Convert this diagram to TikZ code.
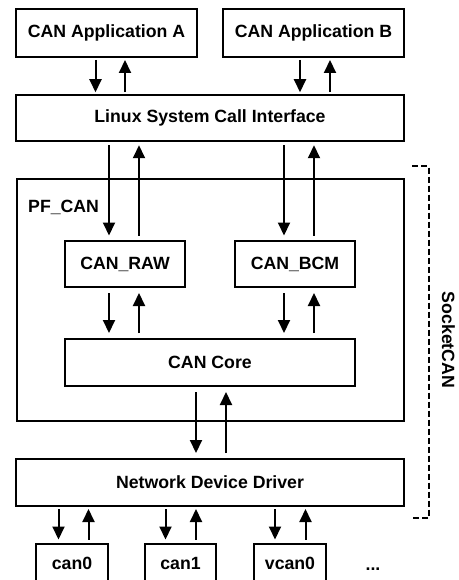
\documentclass[tikz,border=0pt]{standalone}
\usepackage{fontspec}
\setmainfont{Liberation Sans}
\usetikzlibrary{arrows.meta}
\begin{document}
\begin{tikzpicture}[x=1pt,y=-1pt,
  every node/.style={font=\fontsize{17.7}{20}\selectfont\bfseries, inner sep=0pt},
  box/.style={draw, line width=2pt, rectangle},
  arr/.style={line width=2pt, -{Triangle[length=13pt,width=12pt]}, shorten <=3pt, shorten >=3pt},
  dashbracket/.style={line width=2pt, dash pattern=on 6pt off 3pt}
]
\useasboundingbox (0,0) rectangle (458,580);
\clip (0,0) rectangle (458,580);
% boxes
\node[box, minimum width=181, minimum height=48] (appA) at (106.5,33) {CAN Application A};
\node[box, minimum width=181, minimum height=48] (appB) at (313.5,33) {CAN Application B};
\node[box, minimum width=388, minimum height=46.5] (linux) at (210,118) {Linux System Call Interface};
\node[box, minimum width=387, minimum height=242] (pfcan) at (210,300) {};
\node[anchor=base west] (pflabel) at (28,212) {PF\_CAN};
\node[box, minimum width=120, minimum height=46] (raw) at (125,264) {CAN\_RAW};
\node[box, minimum width=120, minimum height=46] (bcm) at (295,264) {CAN\_BCM};
\node[box, minimum width=290, minimum height=47] (core) at (210,362.5) {CAN Core};
\node[box, minimum width=388, minimum height=47] (ndd) at (210,482.5) {Network Device Driver};
\node[box, minimum width=72, minimum height=38] (can0) at (72,563) {can0};
\node[box, minimum width=71, minimum height=38] (can1) at (180.5,563) {can1};
\node[box, minimum width=72, minimum height=38] (vcan0) at (290,563) {vcan0};
\node[anchor=base] (dots) at (373,570) {...};
\node[rotate=-90] (socketcan) at (448.5,340) {SocketCAN};
% x positions of connectors
\coordinate (a1) at (95.5,0);  \coordinate (a2) at (125,0);
\coordinate (b1) at (300,0);   \coordinate (b2) at (330,0);
\coordinate (r1) at (109,0);   \coordinate (r2) at (139,0);
\coordinate (m1) at (284,0);   \coordinate (m2) at (314,0);
\coordinate (c1) at (196,0);   \coordinate (c2) at (226,0);
\coordinate (d1) at (58.5,0);  \coordinate (d2) at (88.5,0);
\coordinate (e1) at (165.5,0); \coordinate (e2) at (196,0);
\coordinate (f1) at (275,0);   \coordinate (f2) at (305.5,0);
% app <-> linux
\draw[arr, shorten >=1.5pt, shorten <=2pt] (appA.south -| a1) -- (linux.north -| a1);
\draw[arr, shorten >=2pt, shorten <=1.5pt] (linux.north -| a2) -- (appA.south -| a2);
\draw[arr, shorten >=1.5pt, shorten <=2pt] (appB.south -| b1) -- (linux.north -| b1);
\draw[arr, shorten >=2pt, shorten <=1.5pt] (linux.north -| b2) -- (appB.south -| b2);
% linux <-> raw / bcm
\draw[arr, shorten >=4.5pt] (linux.south -| r1) -- (raw.north -| r1);
\draw[arr, shorten <=4.5pt] (raw.north -| r2) -- (linux.south -| r2);
\draw[arr, shorten >=4.5pt] (linux.south -| m1) -- (bcm.north -| m1);
\draw[arr, shorten <=4.5pt] (bcm.north -| m2) -- (linux.south -| m2);
% raw / bcm <-> core
\draw[arr, shorten <=5pt, shorten >=5pt] (raw.south -| r1) -- (core.north -| r1);
\draw[arr, shorten <=5pt, shorten >=5pt] (core.north -| r2) -- (raw.south -| r2);
\draw[arr, shorten <=5pt, shorten >=5pt] (bcm.south -| m1) -- (core.north -| m1);
\draw[arr, shorten <=5pt, shorten >=5pt] (core.north -| m2) -- (bcm.south -| m2);
% core <-> ndd
\draw[arr, shorten <=5pt, shorten >=5pt] (core.south -| c1) -- (ndd.north -| c1);
\draw[arr, shorten <=5pt, shorten >=5pt] (ndd.north -| c2) -- (core.south -| c2);
% ndd <-> devices
\draw[arr, shorten <=2pt, shorten >=3.5pt] (ndd.south -| d1) -- (can0.north -| d1);
\draw[arr, shorten <=3.5pt, shorten >=2pt] (can0.north -| d2) -- (ndd.south -| d2);
\draw[arr, shorten <=2pt, shorten >=3.5pt] (ndd.south -| e1) -- (can1.north -| e1);
\draw[arr, shorten <=3.5pt, shorten >=2pt] (can1.north -| e2) -- (ndd.south -| e2);
\draw[arr, shorten <=2pt, shorten >=3.5pt] (ndd.south -| f1) -- (vcan0.north -| f1);
\draw[arr, shorten <=3.5pt, shorten >=2pt] (vcan0.north -| f2) -- (ndd.south -| f2);
% SocketCAN bracket
\draw[dashbracket] (412,166) -| (428.5,518) -- (412,518);
\end{tikzpicture}
\end{document}
